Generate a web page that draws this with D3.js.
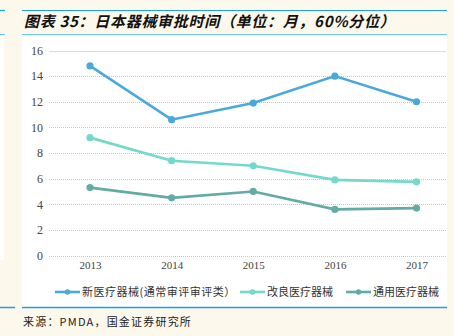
<!DOCTYPE html>
<html>
<head>
<meta charset="utf-8">
<script src="https://d3js.org/d3.v7.min.js"></script>
<style>
body { margin: 0; background: #fdf8ec; }
svg { display: block; }
</style>
</head>
<body>
<script>
var years = ["2013", "2014", "2015", "2016", "2017"];
var newDevice = [14.8, 10.6, 11.9, 14.0, 12.0];
var improvedDevice = [9.2, 7.4, 7.0, 5.9, 5.75];
var genericDevice = [5.3, 4.5, 5.0, 3.6, 3.7];
var seriesNames = ["新医疗器械(通常审评审评类）", "改良医疗器械", "通用医疗器械"];
var yTicks = [0, 2, 4, 6, 8, 10, 12, 14, 16];

var w = 454, h = 336;
var colors = ["#4aa9dc", "#72d9cb", "#62aca5"];
var series = [newDevice, improvedDevice, genericDevice];

var svg = d3.select("body").append("svg")
    .attr("width", w)
    .attr("height", h);

// bits of neighbouring panel on the left
svg.append("rect").attr("x", 0).attr("y", 36).attr("width", 4).attr("height", 224).attr("fill", "#fff");
svg.append("line").attr("x1", 0).attr("x2", 5).attr("y1", 10.5).attr("y2", 10.5).attr("stroke", "#1ea0e6").attr("stroke-width", 1.2);
svg.append("line").attr("x1", 0).attr("x2", 5).attr("y1", 34.5).attr("y2", 34.5).attr("stroke", "#6cc3ee").attr("stroke-width", 1);
svg.append("line").attr("x1", 0).attr("x2", 15).attr("y1", 307.5).attr("y2", 307.5).attr("stroke", "#1ea0e6").attr("stroke-width", 1.5);

// main panel
svg.append("rect").attr("x", 22).attr("y", 35).attr("width", 425).attr("height", 272).attr("fill", "#fff");
svg.append("line").attr("x1", 22).attr("x2", 447).attr("y1", 10.5).attr("y2", 10.5).attr("stroke", "#1ea0e6").attr("stroke-width", 1.2);
svg.append("line").attr("x1", 22).attr("x2", 447).attr("y1", 34.5).attr("y2", 34.5).attr("stroke", "#6cc3ee").attr("stroke-width", 1);
svg.append("line").attr("x1", 22).attr("x2", 447).attr("y1", 307.5).attr("y2", 307.5).attr("stroke", "#1ea0e6").attr("stroke-width", 1.5);

svg.append("text")
    .attr("x", 24).attr("y", 27)
    .style("font-family", "Noto Sans CJK SC")
    .style("font-size", "15px")
    .style("letter-spacing", "0.7px")
    .style("font-weight", "bold")
    .style("font-style", "italic")
    .attr("fill", "#111")
    .text("图表 35：日本器械审批时间（单位：月，60%分位）");

var x = d3.scalePoint().domain(years).range([90, 416.5]);
var y = d3.scaleLinear().domain([0, 16]).range([255.5, 50.5]);

// grid
svg.append("g").selectAll("line")
    .data(yTicks)
    .enter().append("line")
    .attr("x1", 49).attr("x2", 446)
    .attr("y1", function(d) { return Math.round(y(d)) + 0.5; })
    .attr("y2", function(d) { return Math.round(y(d)) + 0.5; })
    .attr("stroke", function(d) { return d == 16 ? "#dcdcdc" : "#c8c8c8"; })
    .attr("stroke-dasharray", function(d) { return d == 16 ? null : "1,1"; });

var yAxis = svg.append("g")
    .attr("transform", "translate(43,0)")
    .call(d3.axisLeft(y).tickValues(yTicks).tickSize(0).tickPadding(0));
yAxis.select(".domain").remove();
yAxis.selectAll("text")
    .style("font-family", "Liberation Serif")
    .style("font-size", "12px")
    .attr("fill", "#444");

var xAxis = svg.append("g")
    .attr("transform", "translate(0,261)")
    .call(d3.axisBottom(x).tickSize(0).tickPadding(0));
xAxis.select(".domain").remove();
xAxis.selectAll("text")
    .style("font-family", "Liberation Serif")
    .style("font-size", "11px")
    .attr("fill", "#444");

var line = d3.line()
    .x(function(d, i) { return x(years[i]); })
    .y(function(d) { return y(d); });

series.forEach(function(s, k) {
    svg.append("path")
        .datum(s)
        .attr("d", line)
        .attr("fill", "none")
        .attr("stroke", colors[k])
        .attr("stroke-width", 2.6);
    svg.append("g").selectAll("circle")
        .data(s)
        .enter().append("circle")
        .attr("cx", function(d, i) { return x(years[i]); })
        .attr("cy", function(d) { return y(d); })
        .attr("r", 3.6)
        .attr("fill", colors[k]);
});

// legend
var legendX = [55, 240, 346];
var leg = svg.append("g").selectAll("g")
    .data(seriesNames)
    .enter().append("g")
    .attr("transform", function(d, i) { return "translate(" + legendX[i] + ",292)"; });
leg.append("line")
    .attr("x1", 0).attr("x2", 25)
    .attr("stroke", function(d, i) { return colors[i]; })
    .attr("stroke-width", 2.6);
leg.append("circle")
    .attr("cx", 12.5).attr("r", 2.8)
    .attr("fill", function(d, i) { return colors[i]; });
leg.append("text")
    .attr("x", 27).attr("y", 4)
    .style("font-family", "Noto Sans CJK SC")
    .style("font-size", "11px")
    .style("letter-spacing", function(d, i) { return i == 0 ? "0.5px" : "0px"; })
    .attr("fill", "#333")
    .text(function(d) { return d; });

svg.append("text")
    .attr("x", 23).attr("y", 326)
    .style("font-family", "Noto Sans CJK SC")
    .style("font-size", "11px")
    .style("letter-spacing", "1.2px")
    .attr("fill", "#222")
    .text("来源：PMDA，国金证券研究所");
</script>
</body>
</html>
